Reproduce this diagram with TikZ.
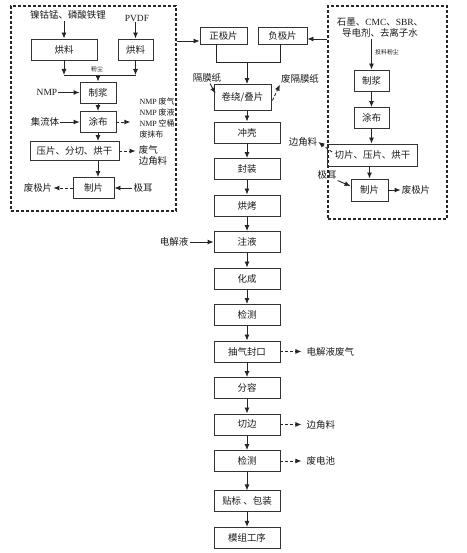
\documentclass[tikz,border=0pt]{standalone}
\usepackage{fontspec}
\setmainfont{Noto Sans CJK SC}
\newfontfamily\en{Liberation Serif}
\usetikzlibrary{positioning,arrows.meta}

\begin{document}
\begin{tikzpicture}[
  x=1bp, y=-1bp,
  font=\fontsize{9.5}{11}\selectfont, text=black!90,
  caja/.style={draw=black!80, line width=0.9pt, rectangle, align=center, minimum height=21bp, inner sep=1pt},
  paso/.style={caja, minimum width=66bp},
  txt/.style={align=center, inner sep=1pt},
  chico/.style={inner sep=0.5pt, font=\fontsize{6}{7}\selectfont},
  marco/.style={draw=black!85, dash pattern=on 3bp off 2bp, line width=1.1pt, inner sep=0pt},
  flecha/.style={-{Latex[length=6bp, width=5bp]}, line width=0.9pt, draw=black!85},
  flechad/.style={flecha, dash pattern=on 3bp off 2bp},
  node distance=14.6bp
]
\useasboundingbox (0,0) rectangle (467,553);

% Marcos: electrodo positivo y negativo
\node[marco, minimum width=165bp, minimum height=205bp] (izq) at (93.5,108.5) {};
\node[marco, minimum width=119bp, minimum height=213bp] (der) at (387.5,112.5) {};

% Electrodo positivo
\node[txt] (ncm) at (68,15) {镍钴锰、磷酸铁锂};
\node[txt] (pvdf) at (137,18) {\en PVDF};
\node[caja, minimum width=66bp] (hl1) at (64,49.5) {烘料};
\node[caja, minimum width=35bp] (hl2) at (135.5,49.5) {烘料};
\coordinate (m1) at (98,75);
\node[chico] (fc1) at (97,69) {粉尘};
\node[caja, minimum width=36bp] (zj1) at (98,92.5) {制浆};
\node[caja, minimum width=36bp] (tb1) at (98,122) {涂布};
\node[caja, minimum width=89bp, minimum height=19bp] (yp1) at (74.5,151) {压片、分切、烘干};
\node[caja, minimum width=41bp] (zp1) at (93.5,188) {制片};
\node[txt] (nmp) at (47,92.5) {\en NMP};
\node[txt] (jlt) at (45,122) {集流体};
\node[txt, align=left, font=\fontsize{8}{11}\selectfont] (fq1) at (157,118) {{\en NMP} 废气\\{\en NMP} 废液\\{\en NMP} 空桶\\废抹布};
\node[txt, align=left] (fq2) at (153,155) {废气\\边角料};
\node[txt] (je1) at (143,188) {极耳};
\node[txt] (fjp1) at (38,188) {废极片};

\draw[flecha] (hl1.north |- ncm.south) -- (hl1.north);
\draw[flecha] (hl2.north |- pvdf.south) -- (hl2.north);
\draw[flecha] (hl1.south) -- (hl1.south |- m1);
\draw[flecha] (hl2.south) -- (hl2.south |- m1);
\draw[line width=0.9pt, draw=black!85] (hl1.south |- m1) -- (hl2.south |- m1);
\draw[flecha] (m1) -- (zj1.north);
\draw[flecha] (nmp) -- (zj1);
\draw[flecha] (jlt) -- (tb1);
\draw[flecha] (zj1) -- (tb1);
\draw[flecha] (tb1.south) -- (tb1.south |- yp1.north);
\draw[flecha] (tb1.south |- yp1.south) -- (tb1.south |- zp1.north);
\draw[flechad, shorten >=8bp] (tb1.east) -- (tb1.east -| fq1.west);
\draw[flechad, shorten >=2bp] (yp1.east) -- (yp1.east -| fq2.west);
\draw[flecha] (je1) -- (zp1);
\draw[flechad] (zp1) -- (fjp1);

% Electrodo negativo
\node[txt] (sm) at (380,28) {石墨、{\en CMC}、{\en SBR}、\\导电剂、去离子水};
\node[caja, minimum width=35bp] (zj2) at (371.5,80.5) {制浆};
\node[chico] (tlfc) at (387,52) {投料粉尘};
\node[caja, minimum width=35bp] (tb2) at (371.5,118) {涂布};
\node[caja, minimum width=90bp, minimum height=22bp] (qp) at (372.5,155) {切片、压片、烘干};
\node[caja, minimum width=37bp, minimum height=22bp] (zp2) at (369.5,190) {制片};
\node[txt] (bjl2) at (303,142) {边角料};
\node[txt] (je2) at (327,175) {极耳};
\node[txt] (fjp2) at (416,190) {废极片};

\draw[flecha] (sm.south -| zj2.north) -- (zj2.north);
\draw[flecha] (zj2) -- (tb2);
\draw[flecha] (tb2.south) -- (tb2.south |- qp.north);
\draw[flecha] (zp2.north |- qp.south) -- (zp2.north);
\draw[flechad] ([shift={(5,-3)}]qp.west) -- (bjl2.east);
\draw[flecha] (je2.south east) -- ([yshift=4bp]zp2.west);
\draw[flecha] (zp2) -- (fjp2);

% Columna central
\node[caja, minimum width=47bp, minimum height=17bp] (zjp) at (223.5,35.5) {正极片};
\node[caja, minimum width=49bp, minimum height=17bp] (fjp) at (282.5,35.5) {负极片};
\coordinate (m2) at (247,62);
\node[caja, minimum width=57bp, minimum height=26bp] (jr) at (242.5,97.5) {卷绕/叠片};
\node[txt] (gmz) at (207,78) {隔膜纸};
\node[txt] (fgm) at (300,79) {废隔膜纸};
\node[paso] (cq) at (247,132.5) {冲壳};
\node[paso, below=of cq] (fz) {封装};
\node[paso, below=of fz] (hk) {烘烤};
\node[paso, below=of hk] (zy) {注液};
\node[paso, below=of zy] (hc) {化成};
\node[paso, below=of hc] (jc1) {检测};
\node[paso, below=of jc1] (cf) {抽气封口};
\node[paso, below=of cf] (fr) {分容};
\node[paso, below=of fr] (qb) {切边};
\node[paso, below=of qb] (jc2) {检测};
\node[paso, below=18.5bp of jc2] (tb) {贴标 、包装};
\node[paso, below=of tb] (mz) {模组工序};
\node[txt, left=24bp of zy] (djy) {电解液};
\node[txt, right=25bp of cf] (dfq) {电解液废气};
\node[txt, right=25bp of qb] (bjl3) {边角料};
\node[txt, right=25bp of jc2] (fdc) {废电池};

\draw[flecha] ([yshift=-5.5bp]zjp.west -| izq.east) -- ([yshift=-5.5bp]zjp.west);
\draw[flecha] ([yshift=-3.5bp]fjp.east -| der.west) -- ([yshift=-3.5bp]fjp.east);
\draw[line width=0.9pt, draw=black!85] ([xshift=-7bp]zjp.south) -- ([xshift=-7bp]zjp.south |- m2) -- ([xshift=-2bp]fjp.south |- m2) -- ([xshift=-2bp]fjp.south);
\draw[flecha] (m2) -- (m2 |- jr.north);
\draw[flecha] ([xshift=3bp]gmz.south) -- ([shift={(2,9.5)}]jr.north west);
\draw[flechad] ([shift={(1,3)}]jr.east) -- (fgm.south west);
\draw[flecha] (jr.south -| cq.north) -- (cq.north);
\foreach \a/\b in {cq/fz, fz/hk, hk/zy, zy/hc, hc/jc1, jc1/cf, cf/fr, fr/qb, qb/jc2, jc2/tb, tb/mz}
  \draw[flecha] (\a) -- (\b);
\draw[flecha] (djy) -- (zy);
\draw[flechad, shorten >=4bp] (cf) -- (dfq);
\draw[flechad, shorten >=4bp] (qb) -- (bjl3);
\draw[flechad, shorten >=4bp] (jc2) -- (fdc);
\end{tikzpicture}
\end{document}
